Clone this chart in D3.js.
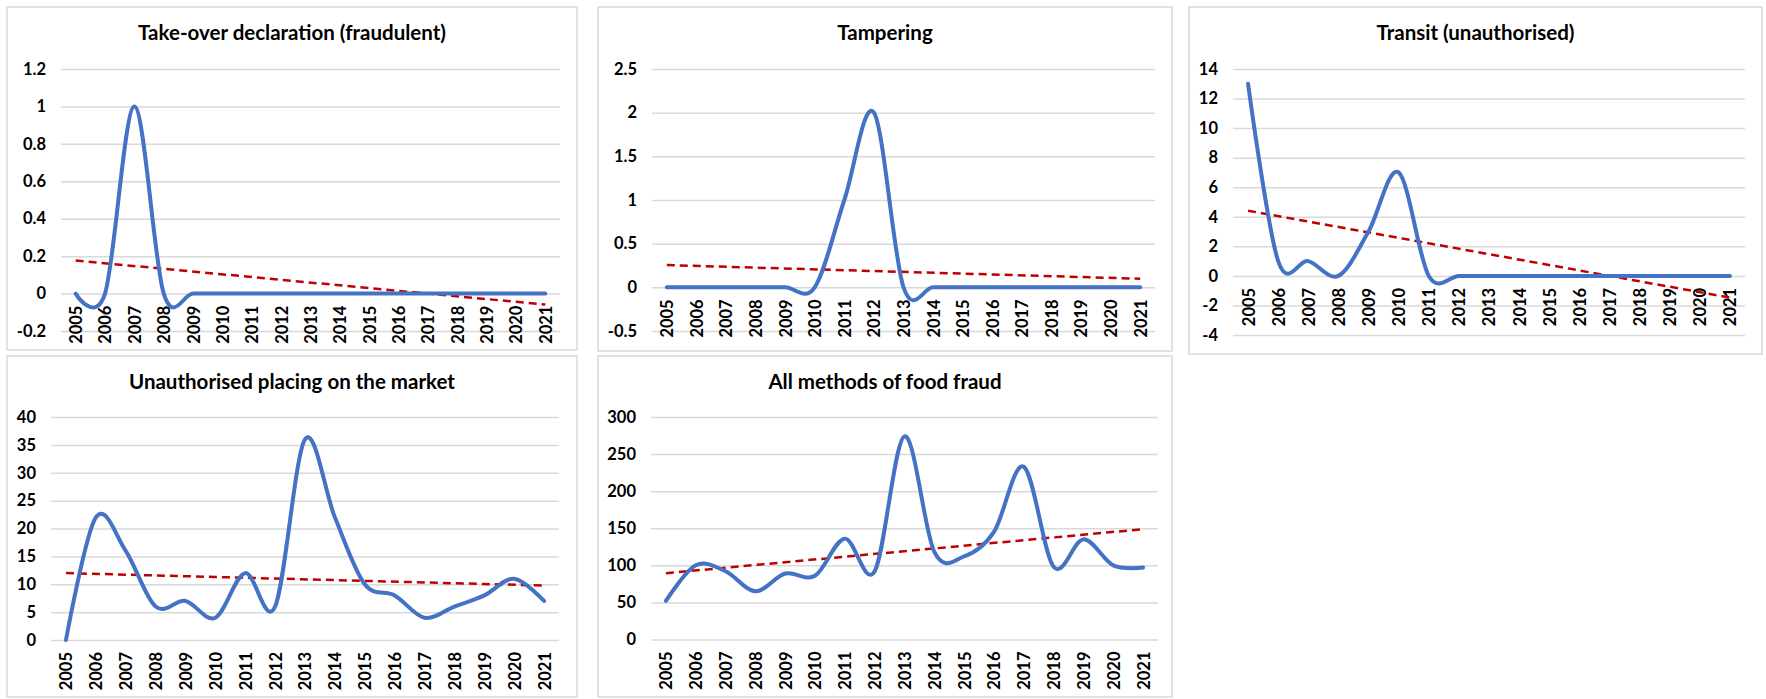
<!DOCTYPE html>
<html>
<head>
    <meta charset="utf-8">
    <title>Food fraud methods 2005-2021</title>
    <script src="https://d3js.org/d3.v7.min.js"></script>
    <style>
        body {
            margin: 0;
            background: #fff;
            font-family: Lato, "Open Sans", sans-serif;
            overflow: hidden;
        }
        .frame {
            fill: #fff;
            stroke: #d9d9d9;
            stroke-width: 1.5px;
        }
        .title {
            font-size: 20.5px;
            font-weight: bold;
            fill: #000;
        }
        .grid line {
            stroke: #d9d9d9;
            stroke-width: 1.5px;
        }
        .tick text {
            font-family: Lato, "Open Sans", sans-serif;
            font-size: 16.5px;
            font-weight: bold;
            fill: #000;
        }
        .series {
            fill: none;
            stroke: #4472c4;
            stroke-width: 4px;
            stroke-linecap: round;
            stroke-linejoin: round;
        }
        .trend {
            fill: none;
            stroke: #c00000;
            stroke-width: 2.5px;
            stroke-dasharray: 8 5;
        }
    </style>
</head>
<body>
    <svg width="1766" height="699"></svg>

    <script>
    // categories
    const years = ["2005", "2006", "2007", "2008", "2009", "2010", "2011", "2012", "2013",
                   "2014", "2015", "2016", "2017", "2018", "2019", "2020", "2021"];

    // series values (number of notifications per year)
    const takeOver   = [0, 0, 1, 0, 0, 0, 0, 0, 0, 0, 0, 0, 0, 0, 0, 0, 0];
    const tampering  = [0, 0, 0, 0, 0, 0, 1, 2, 0, 0, 0, 0, 0, 0, 0, 0, 0];
    const transit    = [13, 1, 1, 0, 3, 7, 0, 0, 0, 0, 0, 0, 0, 0, 0, 0, 0];
    const placing    = [0, 22, 16, 6, 7, 4, 12, 6, 36, 22, 10, 8, 4, 6, 8, 11, 7];
    const allMethods = [52, 100, 92, 65, 89, 86, 136, 92, 274, 118, 112, 145, 233, 98, 135, 100, 97];

    // titles
    const titles = ["Take-over declaration (fraudulent)", "Tampering", "Transit (unauthorised)",
                    "Unauthorised placing on the market", "All methods of food fraud"];

    // y tick labels
    const ticksTakeOver   = [-0.2, 0, 0.2, 0.4, 0.6, 0.8, 1, 1.2];
    const ticksTampering  = [-0.5, 0, 0.5, 1, 1.5, 2, 2.5];
    const ticksTransit    = [-4, -2, 0, 2, 4, 6, 8, 10, 12, 14];
    const ticksPlacing    = [0, 5, 10, 15, 20, 25, 30, 35, 40];
    const ticksAllMethods = [0, 50, 100, 150, 200, 250, 300];

    let svg = d3.select("svg");

    // frame = panel box, plot = gridline area
    let panels = [
        { values: takeOver,   ticks: ticksTakeOver,   title: titles[0],
          frame: [7, 7, 577, 350],    plot: [61, 69, 560, 331] },
        { values: tampering,  ticks: ticksTampering,  title: titles[1],
          frame: [598, 7, 1172, 351], plot: [652, 69, 1155, 331] },
        { values: transit,    ticks: ticksTransit,    title: titles[2],
          frame: [1189, 7, 1762, 354], plot: [1233, 69, 1745, 335] },
        { values: placing,    ticks: ticksPlacing,    title: titles[3],
          frame: [7, 356, 577, 697],  plot: [51, 417, 559, 640] },
        { values: allMethods, ticks: ticksAllMethods, title: titles[4],
          frame: [598, 356, 1172, 697], plot: [651, 417, 1158, 639.5] }
    ];

    // least squares line, like the excel linear trendline
    function linearFit(values) {
        let n = values.length;
        let mx = (n - 1) / 2;
        let my = d3.mean(values);
        let sxy = 0, sxx = 0;
        values.forEach((v, i) => {
            sxy += (i - mx) * (v - my);
            sxx += (i - mx) * (i - mx);
        });
        let slope = sxy / sxx;
        return i => my + slope * (i - mx);
    }

    panels.forEach(p => {
        let [fx0, fy0, fx1, fy1] = p.frame;
        let [px0, py0, px1, py1] = p.plot;

        svg.append("rect")
            .attr("class", "frame")
            .attr("x", fx0).attr("y", fy0)
            .attr("width", fx1 - fx0).attr("height", fy1 - fy0);

        svg.append("text")
            .attr("class", "title")
            .attr("x", (fx0 + fx1) / 2)
            .attr("y", fy0 + 33)
            .attr("text-anchor", "middle")
            .text(p.title);

        let x = d3.scalePoint()
            .domain(years)
            .range([px0, px1])
            .padding(0.5);

        let y = d3.scaleLinear()
            .domain(d3.extent(p.ticks))
            .range([py1, py0]);

        // gridlines + y labels
        svg.append("g")
            .attr("class", "grid")
            .attr("transform", `translate(${px0},0)`)
            .call(d3.axisLeft(y)
                .tickValues(p.ticks)
                .tickSize(-(px1 - px0))
                .tickPadding(15)
                .tickFormat(v => String(+v.toFixed(1))))
            .call(g => g.select(".domain").remove());

        // x labels, rotated, hanging under the zero line
        svg.append("g")
            .attr("transform", `translate(0,${y(0)})`)
            .call(d3.axisBottom(x).tickSize(0))
            .call(g => g.select(".domain").remove())
            .selectAll("text")
            .attr("transform", "rotate(-90)")
            .attr("text-anchor", "end")
            .attr("x", -12)
            .attr("y", 0)
            .attr("dy", "0.36em");

        let fit = linearFit(p.values);
        svg.append("line")
            .attr("class", "trend")
            .attr("x1", x(years[0]))
            .attr("y1", y(fit(0)))
            .attr("x2", x(years[years.length - 1]))
            .attr("y2", y(fit(years.length - 1)));

        let line = d3.line()
            .x((d, i) => x(years[i]))
            .y(d => y(d))
            .curve(d3.curveCatmullRom.alpha(0));

        svg.append("path")
            .attr("class", "series")
            .attr("d", line(p.values));
    });
    </script>
</body>
</html>
